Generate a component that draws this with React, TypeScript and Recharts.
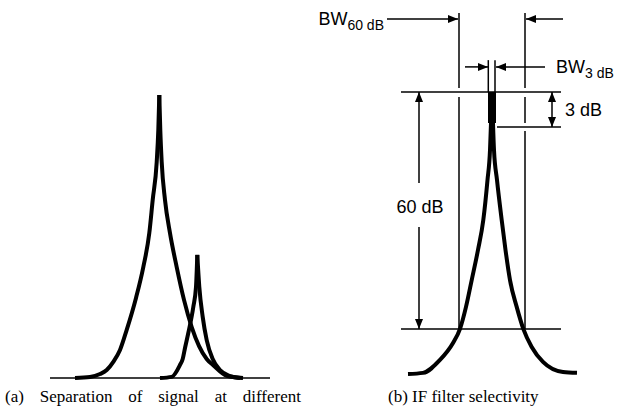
import React from "react";
import { LineChart, Line, XAxis, YAxis, ReferenceLine, ReferenceDot, ReferenceArea } from "recharts";

// (a) two received signals, relative amplitude (big peak = 100)
const bigLeft = [
  { x: 2.5, y: 0 }, { x: 4.0, y: 0.35 }, { x: 5.0, y: 1.4 }, { x: 5.67, y: 2.8 },
  { x: 6.33, y: 5.7 }, { x: 7.0, y: 9.9 }, { x: 7.67, y: 17.0 }, { x: 8.6, y: 28.3 },
  { x: 9.33, y: 39.2 }, { x: 9.93, y: 51.2 }, { x: 10.27, y: 62.9 }, { x: 10.67, y: 76.3 },
  { x: 10.83, y: 87.6 }, { x: 10.93, y: 100 },
];
const bigRight = [
  { x: 10.93, y: 100 }, { x: 11.03, y: 87.6 }, { x: 11.17, y: 76.3 }, { x: 11.5, y: 62.9 },
  { x: 12.0, y: 51.2 }, { x: 12.67, y: 39.2 }, { x: 13.4, y: 27.6 }, { x: 14.17, y: 18.0 },
  { x: 15.67, y: 6.7 }, { x: 16.3, y: 4.6 }, { x: 17.67, y: 0.8 }, { x: 19.3, y: 0 },
];
const smallLeft = [
  { x: 11.0, y: 0 }, { x: 12.17, y: 0.4 }, { x: 13.0, y: 4.6 }, { x: 13.27, y: 6.7 },
  { x: 13.5, y: 10.6 }, { x: 13.83, y: 15.9 }, { x: 14.33, y: 25.1 }, { x: 14.6, y: 32.2 },
  { x: 14.73, y: 43.5 },
];
const smallRight = [
  { x: 14.73, y: 43.5 }, { x: 14.93, y: 32.2 }, { x: 15.27, y: 21.6 }, { x: 15.67, y: 13.4 },
  { x: 16.27, y: 6.7 }, { x: 17.0, y: 2.8 }, { x: 18.0, y: 0.7 }, { x: 19.0, y: 0 },
];

// (b) IF filter response, offset from centre vs display level
const filterLeft = [
  { x: -8.4, y: 0 }, { x: -6.9, y: 0.4 }, { x: -5.2, y: 5.0 }, { x: -3.9, y: 11.0 },
  { x: -3.2, y: 16.0 }, { x: -2.6, y: 23.8 }, { x: -2.03, y: 33.3 }, { x: -1.4, y: 44.0 },
  { x: -0.87, y: 54.6 }, { x: -0.45, y: 68.8 }, { x: -0.2, y: 79.4 }, { x: -0.1, y: 89 },
];
const filterRight = [
  { x: 0.1, y: 89 }, { x: 0.2, y: 79.4 }, { x: 0.5, y: 68.8 }, { x: 0.97, y: 54.6 },
  { x: 1.35, y: 44.0 }, { x: 1.8, y: 33.3 }, { x: 2.47, y: 23.8 }, { x: 3.13, y: 16.0 },
  { x: 3.97, y: 9.6 }, { x: 5.1, y: 4.3 }, { x: 7.1, y: 0.7 }, { x: 8.5, y: 0.4 },
];
// flat 3 dB top of the passband
const passTop = { x1: -0.4, x2: 0.4, y1: 89, y2: 100 };

// guide lines: [x1, y1, x2, y2, arrow heads]
type Head = "none" | "start" | "end" | "both";
const guides: [number, number, number, number, Head][] = [
  [-9.1, 100, 6.9, 100, "none"],
  [0.5, 87.6, 6.9, 87.6, "none"],
  [-9.1, 16.0, 6.9, 16.0, "none"],
  [-3.3, 128.0, -3.3, 101.4, "none"],
  [-3.3, 98.2, -3.3, 16.0, "none"],
  [3.3, 128.0, 3.3, 101.4, "none"],
  [3.3, 98.2, 3.3, 89.0, "none"],
  [3.3, 86.2, 3.3, 16.0, "none"],
  [-0.37, 100, -0.37, 111.3, "none"],
  [0.3, 100, 0.3, 111.3, "none"],
  [-10.5, 125.9, -3.4, 125.9, "end"],
  [7.1, 125.9, 3.4, 125.9, "end"],
  [-2.7, 108.9, -0.4, 108.9, "end"],
  [5.3, 108.9, 0.4, 108.9, "end"],
  [-7.3, 67.7, -7.3, 100, "end"],
  [-7.3, 52.1, -7.3, 16.0, "end"],
  [6.0, 100, 6.0, 87.6, "both"],
];

// labels: [x, y, main, subscript, anchor]
const labels: [number, number, string, string, "start" | "middle" | "end"][] = [
  [-10.8, 125.9, "BW", "60 dB", "end"],
  [6.4, 108.9, "BW", "3 dB", "start"],
  [7.3, 93.6, "3 dB", "", "start"],
  [-7.2, 59.2, "60 dB", "", "middle"],
];

const SANS = '"Liberation Sans", Arial, sans-serif';
const SERIF = '"Liberation Serif", "Times New Roman", serif';

function arrowHead(tx: number, ty: number, fx: number, fy: number) {
  const dx = tx - fx;
  const dy = ty - fy;
  const len = Math.hypot(dx, dy) || 1;
  const ux = dx / len;
  const uy = dy / len;
  const bx = tx - ux * 10;
  const by = ty - uy * 10;
  const pts = `${tx},${ty} ${bx - uy * 4},${by + ux * 4} ${bx + uy * 4},${by - ux * 4}`;
  return <polygon points={pts} fill="#000" />;
}

function guideShape(head: Head) {
  return (p: any) => {
    const { x1, y1, x2, y2 } = p;
    return (
      <g>
        <line x1={x1} y1={y1} x2={x2} y2={y2} stroke="#000" strokeWidth={1.5} />
        {(head === "end" || head === "both") && arrowHead(x2, y2, x1, y1)}
        {(head === "start" || head === "both") && arrowHead(x1, y1, x2, y2)}
      </g>
    );
  };
}

function labelShape(main: string, sub: string, anchor: "start" | "middle" | "end") {
  return (p: any) => (
    <text
      x={p.cx}
      y={p.cy}
      textAnchor={anchor}
      dominantBaseline="central"
      fontFamily={SANS}
      fontSize={18}
      fill="#000"
    >
      {main}
      {sub && (
        <tspan fontSize={14} dy={6}>
          {sub}
        </tspan>
      )}
    </text>
  );
}

const curve = { type: "monotone" as const, dataKey: "y", stroke: "#000", strokeWidth: 4, dot: false, isAnimationActive: false, strokeLinejoin: "round" as const };

export default function App() {
  return (
    <div style={{ position: "absolute", left: 0, top: 0, width: 621, height: 414, background: "#fff" }}>
      <div style={{ position: "absolute", left: 0, top: 0 }}>
        <LineChart width={300} height={414} margin={{ top: 95, right: 30, bottom: 36, left: 50 }}>
          <XAxis type="number" dataKey="x" domain={[0, 22]} hide />
          <YAxis type="number" domain={[0, 100]} hide />
          <ReferenceLine y={0} stroke="#000" strokeWidth={1.5} />
          <Line {...curve} data={bigLeft} />
          <Line {...curve} data={bigRight} />
          <Line {...curve} data={smallLeft} />
          <Line {...curve} data={smallRight} />
        </LineChart>
      </div>
      <div style={{ position: "absolute", left: 310, top: 0 }}>
        <LineChart width={311} height={414} margin={{ top: 92, right: 29, bottom: 40, left: 82 }}>
          <XAxis type="number" dataKey="x" domain={[-10, 10]} hide />
          <YAxis type="number" domain={[0, 100]} hide />
          {guides.map(([x1, y1, x2, y2, head], i) => (
            <ReferenceLine
              key={`g${i}`}
              segment={[{ x: x1, y: y1 }, { x: x2, y: y2 }]}
              ifOverflow="visible"
              shape={guideShape(head)}
            />
          ))}
          <ReferenceArea {...passTop} fill="#000" fillOpacity={1} stroke="none" ifOverflow="visible" />
          <Line {...curve} data={filterLeft} />
          <Line {...curve} data={filterRight} />
          {labels.map(([x, y, main, sub, anchor], i) => (
            <ReferenceDot key={`l${i}`} x={x} y={y} r={0} ifOverflow="visible" shape={labelShape(main, sub, anchor)} />
          ))}
        </LineChart>
      </div>
      <div
        style={{
          position: "absolute",
          left: 5,
          top: 386,
          width: 296,
          fontFamily: SERIF,
          fontSize: 17,
          lineHeight: "22px",
          textAlign: "justify",
          textAlignLast: "justify",
          whiteSpace: "nowrap",
        }}
      >
        (a) Separation of signal at different
      </div>
      <div
        style={{
          position: "absolute",
          left: 388,
          top: 386,
          fontFamily: SERIF,
          fontSize: 17,
          lineHeight: "22px",
          whiteSpace: "nowrap",
        }}
      >
        (b) IF filter selectivity
      </div>
    </div>
  );
}
